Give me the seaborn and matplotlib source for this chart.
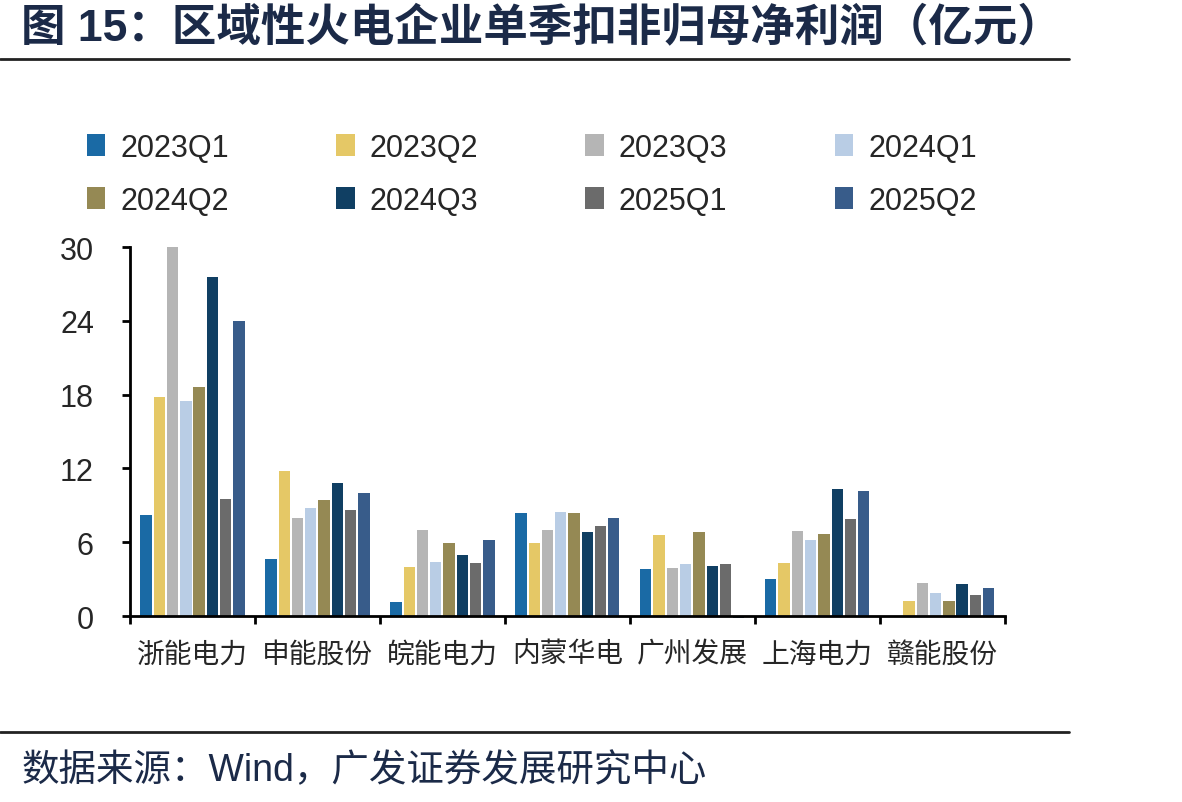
import pandas as pd
import matplotlib.pyplot as plt
import numpy as np
import seaborn as sns
from matplotlib.lines import Line2D
from matplotlib.patches import Patch

sns.set_theme(style="ticks")
plt.rcParams['font.family'] = ['Liberation Sans', 'Noto Sans CJK SC', 'DejaVu Sans']

companies = ['浙能电力', '申能股份', '皖能电力', '内蒙华电', '广州发展', '上海电力', '赣能股份']
quarters = ['2023Q1', '2023Q2', '2023Q3', '2024Q1', '2024Q2', '2024Q3', '2025Q1', '2025Q2']

q2023_1 = [8.2, 4.6, 1.1, 8.4, 3.8, 3.0, 0.0]
q2023_2 = [17.8, 11.8, 4.0, 5.9, 6.6, 4.3, 1.2]
q2023_3 = [30.0, 8.0, 7.0, 7.0, 3.9, 6.9, 2.7]
q2024_1 = [17.5, 8.8, 4.4, 8.5, 4.2, 6.2, 1.9]
q2024_2 = [18.6, 9.4, 5.9, 8.4, 6.8, 6.7, 1.2]
q2024_3 = [27.6, 10.8, 5.0, 6.8, 4.1, 10.3, 2.6]
q2025_1 = [9.5, 8.6, 4.3, 7.3, 4.2, 7.9, 1.7]
q2025_2 = [24.0, 10.0, 6.2, 8.0, -0.2, 10.2, 2.3]

colors = ['#1A6AA5', '#E5C866', '#B5B5B5', '#B9CDE5', '#958954', '#103F63', '#6B6B6B', '#385C8A']

series = [q2023_1, q2023_2, q2023_3, q2024_1, q2024_2, q2024_3, q2025_1, q2025_2]
rows = []
for q, vals in zip(quarters, series):
    for c, v in zip(companies, vals):
        rows.append({'company': c, 'quarter': q, 'value': v})
df = pd.DataFrame(rows)

fig = plt.figure(figsize=(11.82, 8.03), dpi=100)
ax = fig.add_axes([0.110, 0.2316, 0.740, 0.4594])

sns.barplot(data=df, x='company', y='value', hue='quarter', order=companies,
            hue_order=quarters, palette=colors, saturation=1, width=0.85, gap=0.15,
            edgecolor='none', linewidth=0, legend=False, ax=ax)
for p in ax.patches:
    p.set_clip_on(False)

ax.set_ylim(0, 30)
ax.set_yticks([0, 6, 12, 18, 24, 30])
ax.set_xlim(-0.5, len(companies) - 0.5)
ax.set_xticks(np.arange(-0.5, len(companies)), minor=False)
ax.set_xticklabels([])
ax.set_xticks(np.arange(len(companies)), minor=True)
ax.set_xticklabels(companies, minor=True, fontsize=20, family=['Noto Sans CJK SC'])
ax.tick_params(axis='x', which='minor', length=0, pad=16)
ax.tick_params(axis='x', which='major', length=6, width=2, direction='out', color='black')
ax.tick_params(axis='y', length=6, width=2, direction='out', labelsize=22, color='black', pad=20)
ax.set_xlabel('')
ax.set_ylabel('')
for s in ['top', 'right']:
    ax.spines[s].set_visible(False)
for s in ['left', 'bottom']:
    ax.spines[s].set_linewidth(2)
    ax.spines[s].set_color('black')
    ax.spines[s].set_zorder(5)

# legend fills row-wise in the reference, matplotlib fills column-wise
handles = [Patch(facecolor=c, edgecolor='none') for c in colors]
order = [0, 4, 1, 5, 2, 6, 3, 7]
fig.legend([handles[i] for i in order], [quarters[i] for i in order],
           loc='center', bbox_to_anchor=(0.450, 0.782), ncol=4,
           frameon=False, fontsize=22, handlelength=0.6, handleheight=0.7,
           handletextpad=0.5, columnspacing=3.5, labelspacing=0.75)

navy = '#1B2A48'
fig.text(0.018, 0.965, '图 15：区域性火电企业单季扣非归母净利润（亿元）', fontsize=32,
         fontweight='bold', color=navy, va='center', ha='left',
         family=['Liberation Sans', 'Noto Sans CJK SC'])
fig.add_artist(Line2D([0, 0.904], [0.925, 0.925], color='#222222', linewidth=2))
fig.add_artist(Line2D([0, 0.904], [0.087, 0.087], color='#222222', linewidth=2))
fig.text(0.018, 0.040, '数据来源：Wind，广发证券发展研究中心', fontsize=27,
         color=navy, va='center', ha='left',
         family=['Liberation Sans', 'Noto Sans CJK SC'])

plt.savefig('out.png', dpi=100)
